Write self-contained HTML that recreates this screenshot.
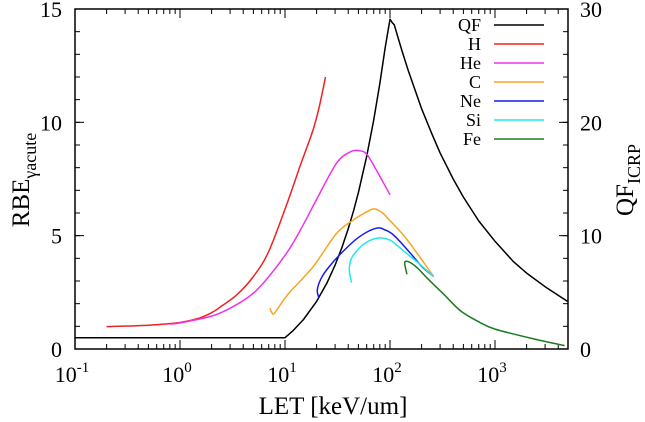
<!DOCTYPE html>
<html><head><meta charset="utf-8"><style>
body{margin:0;background:#fff;}
svg{display:block;font-family:"Liberation Serif",serif;}
</style></head><body>
<svg id="chart" width="645" height="422" viewBox="0 0 645 422" xmlns="http://www.w3.org/2000/svg">
<g id="axes"></g><g id="series"></g><g id="legend"></g>
<text x="333" y="414" font-size="25" text-anchor="middle">LET [keV/um]</text>
<text transform="translate(29,180) rotate(-90)" font-size="25" text-anchor="middle">RBE<tspan font-size="18" dy="7">γacute</tspan></text>
<text transform="translate(633,180) rotate(-90)" font-size="25" text-anchor="middle">QF<tspan font-size="18" dy="7">ICRP</tspan></text>
</svg>
<script>
const xDecades=[-1,0,1,2,3];
const yLeftTicks=[0,5,10,15];
const yRightTicks=[0,10,20,30];
const seriesNames=["QF","H","He","C","Ne","Si","Fe"];
const seriesColors=["#000000","#ee2222","#ee33ee","#f5a623","#1a1ae6","#22e8e8","#1f7a1f"];
// QF in QF units (right axis); others RBE (left axis)
const qfData=[[0.1,1],[10,1],[12,1.64],[15,2.6],[20,4.2],[25,5.8],[30,7.4],[35,9.0],[40,10.6],[45,12.2],[50,13.8],[60,17.0],[70,20.2],[80,23.4],[90,26.6],[100,29.1],[105,28.8],[110,28.6],[120,27.4],[130,26.3],[150,24.5],[200,21.2],[250,19.0],[300,17.3],[400,15.0],[500,13.4],[700,11.3],[1000,9.5],[1500,7.7],[2000,6.7],[3000,5.5],[4900,4.2]];
const hData=[[0.2,0.99],[0.5,1.05],[1,1.17],[1.5,1.35],[2,1.6],[2.5,1.9],[3.5,2.4],[5,3.2],[7,4.3],[10.6,6.5],[14,8.1],[18.3,9.6],[21,10.6],[24.3,12.0]];
const heData=[[0.81,1.1],[1,1.15],[2,1.45],[3,1.8],[4.5,2.3],[6.2,2.9],[10.6,4.3],[15,5.5],[20,6.6],[31,8.2],[42,8.7],[51,8.75],[60,8.6],[72,8.0],[85,7.4],[100,6.8]];
const cData=[[7.2,1.8],[7.5,1.6],[8,1.6],[10.6,2.4],[18.3,3.6],[31,5.1],[45,5.7],[60,6.05],[71,6.18],[85,6.0],[100,5.66],[130,5.1],[158,4.6],[200,3.95],[260,3.2]];
const neData=[[21,2.27],[20.3,2.6],[22,3.1],[26,3.6],[34.7,4.25],[51,4.95],[74,5.33],[90,5.25],[110,5.0],[158,4.2],[200,3.65],[260,3.2]];
const siData=[[43,2.93],[41,3.5],[43,4.0],[51,4.45],[62,4.75],[80,4.9],[100,4.8],[118,4.55],[150,4.15],[180,3.85],[260,3.2]];
const feData=[[145,3.3],[138,3.8],[150,3.85],[180,3.6],[229,3.1],[324,2.42],[470,1.68],[700,1.2],[1000,0.88],[2360,0.44],[4600,0.15]];

const L=75,R=568,T=9,B=349;
const xMinLog=-1,decPx=105;
const xs=v=>L+(Math.log10(v)-xMinLog)*decPx;
const yL=v=>B-(v/15)*(B-T);
const yR=v=>B-(v/30)*(B-T);
const NS="http://www.w3.org/2000/svg";
function mk(tag,attrs,parent){const e=document.createElementNS(NS,tag);for(const k in attrs)e.setAttribute(k,attrs[k]);parent.appendChild(e);return e;}
function smoothPath(p){
  let d='M'+p[0][0].toFixed(1)+','+p[0][1].toFixed(1);
  for(let i=0;i<p.length-1;i++){
    const p0=p[i-1]||p[i],p1=p[i],p2=p[i+1],p3=p[i+2]||p2;
    const c1x=p1[0]+(p2[0]-p0[0])/6,c1y=p1[1]+(p2[1]-p0[1])/6;
    const c2x=p2[0]-(p3[0]-p1[0])/6,c2y=p2[1]-(p3[1]-p1[1])/6;
    d+=' C'+c1x.toFixed(1)+','+c1y.toFixed(1)+' '+c2x.toFixed(1)+','+c2y.toFixed(1)+' '+p2[0].toFixed(1)+','+p2[1].toFixed(1);
  }
  return d;
}
const ax=document.getElementById('axes');
const frame=mk('rect',{x:L,y:T,width:R-L,height:B-T,fill:'none',stroke:'#000','stroke-width':1.5},ax);


xDecades.forEach(d=>{
  const x=L+(d-xMinLog)*decPx;
  const t=mk('line',{x1:x,x2:x,y1:B,y2:B-9,stroke:'#000'},ax);
  
  
  mk('line',{x1:x,x2:x,y1:T,y2:T+9,stroke:'#000'},ax);
  const lb=mk('text',{x:x-3,y:382,'font-size':22,'text-anchor':'middle'},ax);
  
  
  lb.innerHTML='10<tspan font-size="15" dy="-10">'+d+'</tspan>';
  for(let m=2;m<=9;m++){
    const xm=x+Math.log10(m)*decPx;
    if(xm>R)break;
    mk('line',{x1:xm,x2:xm,y1:B,y2:B-5,stroke:'#000'},ax);
    mk('line',{x1:xm,x2:xm,y1:T,y2:T+5,stroke:'#000'},ax);
  }
});
yLeftTicks.forEach(v=>{
  const y=yL(v);
  mk('line',{x1:L,x2:L+9,y1:y,y2:y,stroke:'#000'},ax);
  const lb=mk('text',{x:62,y:y+8,'font-size':22,'text-anchor':'end'},ax);
  
  
  lb.textContent=v;
});
for(let v=1;v<15;v++){const y=yL(v);mk('line',{x1:L,x2:L+5,y1:y,y2:y,stroke:'#000'},ax);}
yRightTicks.forEach(v=>{
  const y=yR(v);
  mk('line',{x1:R,x2:R-9,y1:y,y2:y,stroke:'#000'},ax);
  const lb=mk('text',{x:580,y:y+8,'font-size':22,'text-anchor':'start'},ax);
  
  
  lb.textContent=v;
});
for(let v=2;v<30;v+=2){const y=yR(v);mk('line',{x1:R,x2:R-5,y1:y,y2:y,stroke:'#000'},ax);}

const sg=document.getElementById('series');
const allData=[qfData,hData,heData,cData,neData,siData,feData];
allData.forEach((d,i)=>{
  const yf=i===0?yR:yL;
  const pts=d.map(p=>[xs(p[0]),yf(p[1])]);
  const pl=mk('path',{d:i===0?'M'+pts.map(p=>p[0].toFixed(1)+','+p[1].toFixed(1)).join(' L'):smoothPath(pts),fill:'none',stroke:seriesColors[i],'stroke-width':1.5,'stroke-linejoin':'round'},sg);
  
  
});
const lg=document.getElementById('legend');
seriesNames.forEach((n,i)=>{
  const y=25+i*19;
  const tx=mk('text',{x:481,y:y+6,'font-size':18,'text-anchor':'end'},lg);
  
  
  tx.textContent=n;
  const ln=mk('line',{x1:494,x2:544,y1:y,y2:y,stroke:seriesColors[i],'stroke-width':1.5},lg);
  
  
});
</script>
</body></html>
